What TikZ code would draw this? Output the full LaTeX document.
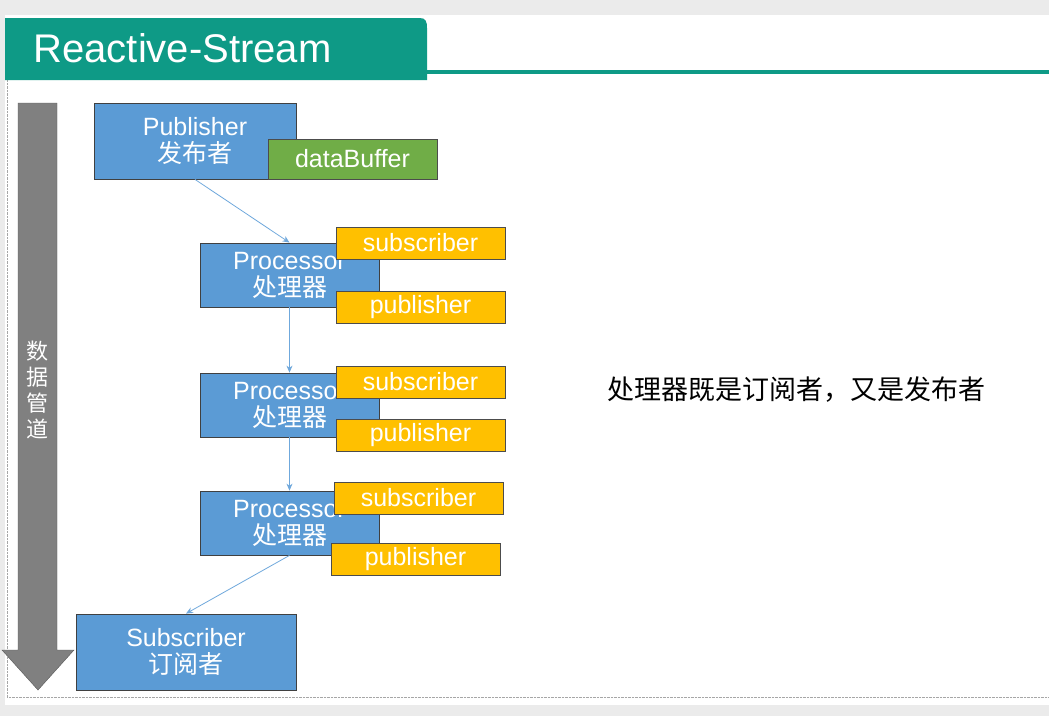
\documentclass[tikz,border=0pt]{standalone}
\usepackage{fontspec}
\setmainfont{Liberation Sans}
\newfontfamily\cjk{Noto Sans CJK SC}
\usetikzlibrary{arrows.meta}
\definecolor{teal1}{HTML}{0E9A86}
\definecolor{blue1}{HTML}{5B9BD5}
\definecolor{green1}{HTML}{70AD47}
\definecolor{org1}{HTML}{FFC000}
\definecolor{conn}{HTML}{6FA8DC}
\begin{document}
\begin{tikzpicture}[x=1pt,y=-1pt,
  bbox/.style={draw=black!75,fill=blue1,text=white,inner sep=0pt,align=center,font=\fontsize{25}{27}\selectfont,line width=0.8pt},
  tag/.style={draw=black!70,fill=org1,text=white,inner sep=0pt,font=\fontsize{25}{27}\selectfont,line width=0.8pt},
  conn/.style={draw=conn,line width=0.8pt,-{Stealth[length=7pt,width=6pt]}}]
\useasboundingbox (0,0) rectangle (1049,716);
\fill[black!8] (0,0) rectangle (1049,716);
\fill[white] (5,15) rectangle (1049,705);
\draw[black!35,densely dotted] (7,80) -- (7,697) -- (1049,697);
% title
\fill[teal1] (5,18) -- (420,18) .. controls (426,18) and (427,22) .. (427,28) -- (427,80) -- (5,80) -- cycle;
\fill[teal1] (427,70) rectangle (1049,74);
\node[text=white,font=\fontsize{40}{44}\selectfont,anchor=west] (title) at (30,48) {Reactive-Stream};
% gray arrow
\fill[black!50,draw=black!65] (18,103) -- (57,103) -- (57,650) -- (74,650) -- (38,690) -- (2,650) -- (18,650) -- cycle;
\node[text=white,font=\cjk\fontsize{22}{26}\selectfont,align=center] (pipe) at (38,390) {数\\据\\管\\道};
% boxes
\node[bbox,minimum width=202pt,minimum height=76pt] (pub) at (195,141) {Publisher\\{\cjk 发布者}};
\node[draw=black!70,fill=green1,text=white,inner sep=0pt,font=\fontsize{25}{27}\selectfont,minimum width=169pt,minimum height=40pt,line width=0.8pt] (buf) at (352.5,159) {dataBuffer};
\node[bbox,minimum width=179pt,minimum height=64pt] (p1) at (289.5,275) {Processor\\{\cjk 处理器}};
\node[bbox,minimum width=179pt,minimum height=64pt] (p2) at (289.5,405) {Processor\\{\cjk 处理器}};
\node[bbox,minimum width=179pt,minimum height=64pt] (p3) at (289.5,523) {Processor\\{\cjk 处理器}};
\node[tag,minimum width=169pt,minimum height=32pt] (s1) at (420.5,243) {subscriber};
\node[tag,minimum width=169pt,minimum height=32pt] (q1) at (420.5,307) {publisher};
\node[tag,minimum width=169pt,minimum height=32pt] (s2) at (420.5,382) {subscriber};
\node[tag,minimum width=169pt,minimum height=32pt] (q2) at (420.5,435) {publisher};
\node[tag,minimum width=169pt,minimum height=32pt] (s3) at (418.5,498) {subscriber};
\node[tag,minimum width=169pt,minimum height=32pt] (q3) at (415.5,559) {publisher};
\node[bbox,minimum width=220pt,minimum height=76pt] (sub) at (186,652) {Subscriber\\{\cjk 订阅者}};
% connectors
\draw[conn] (pub.south) -- (p1.north);
\draw[conn] (p1.south) -- (p2.north);
\draw[conn] (p2.south) -- (p3.north);
\draw[conn] (p3.south) -- (sub.north);
\node[font=\cjk\fontsize{27}{30}\selectfont] (note) at (796,390) {处理器既是订阅者，又是发布者};
\end{tikzpicture}
\end{document}
